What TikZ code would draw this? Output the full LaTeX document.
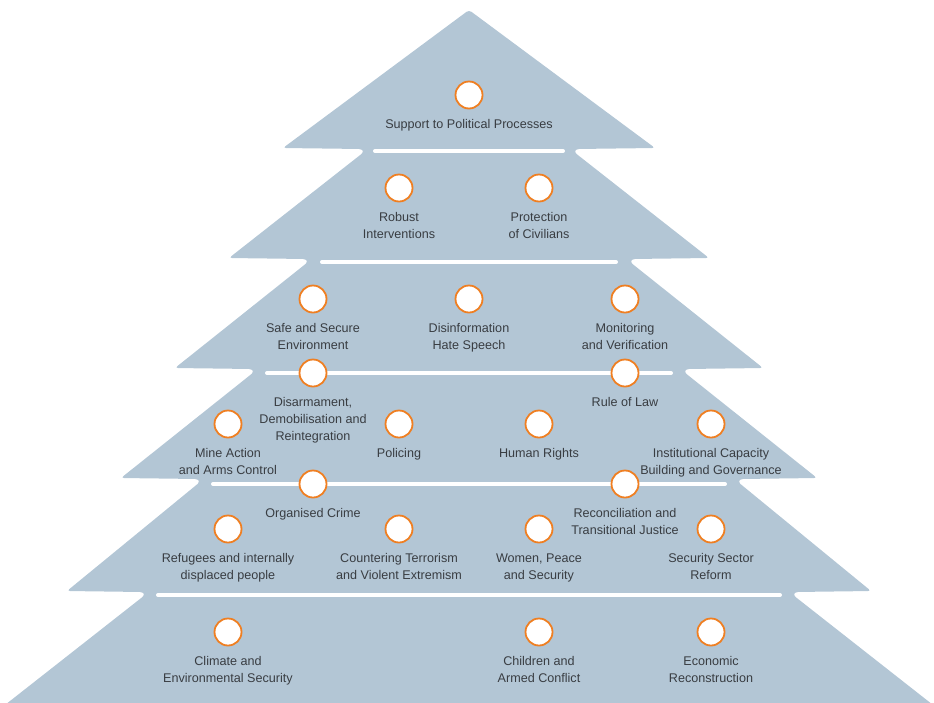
\documentclass[tikz,border=0pt]{standalone}
\usepackage{fontspec}
\setmainfont{Liberation Sans}
\usetikzlibrary{positioning}

\definecolor{treeblue}{HTML}{B3C6D5}
\definecolor{ringorange}{HTML}{EF7F22}
\definecolor{labelgray}{HTML}{393D42}

\tikzset{
	ring/.style={circle, draw=ringorange, fill=white, line width=1.8pt, minimum size=27pt, inner sep=0pt},
	lbl/.style={align=center, inner sep=0pt, outer sep=0pt, text=labelgray, font=\fontsize{12.6}{17}\selectfont},
	sepline/.style={white, line width=4pt, line cap=round}
}

\begin{document}
\begin{tikzpicture}[x=1pt, y=-1pt]
\useasboundingbox (0,0) rectangle (934,702);

% the tree
\fill[treeblue, rounded corners=3pt] (469,10)
	-- (283,148) -- (362,149) -- (364,152)
	-- (229,258) -- (306,259) -- (308,262)
	-- (175,368) -- (252,369) -- (254,372)
	-- (121,478) -- (198,479) -- (200,482)
	-- (67,591) -- (143,592) -- (145,595)
	-- (-4,712) -- (942,712)
	-- (793,595) -- (795,592) -- (871,591)
	-- (738,482) -- (740,479) -- (817,478)
	-- (684,372) -- (686,369) -- (763,368)
	-- (630,262) -- (632,259) -- (709,258)
	-- (574,152) -- (576,149) -- (655,148) -- cycle;

% white separators
\foreach \y/\w in {151/94, 262/147, 373/202, 484/256, 595/311} {
	\draw[sepline] (469-\w,\y) -- (469+\w,\y);
}

% circles and their labels
\foreach \x/\y/\name/\txt in {
	469/95/pol/{Support to Political Processes},
	399/188/rob/{Robust\\Interventions},
	539/188/poc/{Protection\\of Civilians},
	313/299/sse/{Safe and Secure\\Environment},
	469/299/dis/{Disinformation\\Hate Speech},
	625/299/mon/{Monitoring\\and Verification},
	313/373/ddr/{Disarmament,\\Demobilisation and\\Reintegration},
	625/373/rol/{Rule of Law},
	228/424/mine/{Mine Action\\and Arms Control},
	399/424/pol2/{Policing},
	539/424/hr/{Human Rights},
	711/424/inst/{Institutional Capacity\\Building and Governance},
	313/484/org/{Organised Crime},
	625/484/rec/{Reconciliation and\\Transitional Justice},
	228/529/ref/{Refugees and internally\\displaced people},
	399/529/ter/{Countering Terrorism\\and Violent Extremism},
	539/529/wps/{Women, Peace\\and Security},
	711/529/ssr/{Security Sector\\Reform},
	228/632/cli/{Climate and\\Environmental Security},
	539/632/chi/{Children and\\Armed Conflict},
	711/632/eco/{Economic\\Reconstruction}} {
	\node[ring] (\name) at (\x,\y) {};
	\node[lbl, below=10pt of \name] (\name-t) {\txt};
}
\end{tikzpicture}
\end{document}
